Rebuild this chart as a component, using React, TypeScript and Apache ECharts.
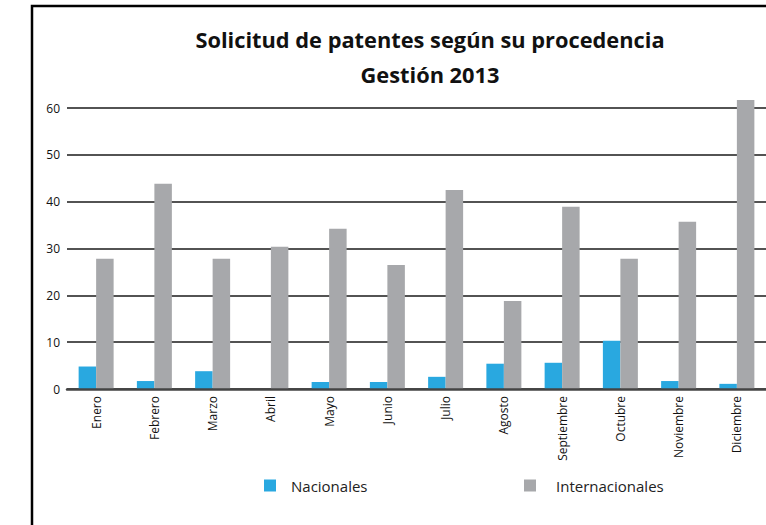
import React, { useEffect, useRef } from "react";
import * as echarts from "echarts";

const categories = ["Enero", "Febrero", "Marzo", "Abril", "Mayo", "Junio", "Julio", "Agosto", "Septiembre", "Octubre", "Noviembre", "Diciembre"];
const nacionales = [4.8, 1.7, 3.8, 0, 1.5, 1.5, 2.6, 5.4, 5.6, 10.3, 1.7, 1.1];
const internacionales = [27.8, 43.8, 27.8, 30.4, 34.2, 26.5, 42.5, 18.8, 38.9, 27.8, 35.7, 61.7];
const titleLines = ["Solicitud de patentes según su procedencia", "Gestión 2013"];

export default function App() {
  const ref = useRef<HTMLDivElement>(null);
  useEffect(() => {
    if (!ref.current) return;
    const chart = echarts.init(ref.current, null, { renderer: "svg" });
    const font = "'Open Sans', 'Noto Sans', sans-serif";
    chart.setOption({
      animation: false,
      backgroundColor: "#ffffff",
      title: {
        text: titleLines.join("\n"),
        left: 425,
        top: 17,
        textAlign: "center",
        textStyle: {
          fontFamily: "'Open Sans', sans-serif",
          fontWeight: "bold",
          fontSize: 21.8,
          lineHeight: 35,
          color: "#111",
        },
      },
      graphic: [
        {
          type: "rect",
          shape: { x: 32, y: 6, width: 900, height: 700 },
          style: { fill: "none", stroke: "#000", lineWidth: 2.5 },
          silent: true,
        },
      ],
      legend: [
        {
          data: ["Nacionales"],
          left: 259,
          top: 473,
          icon: "rect",
          itemWidth: 12,
          itemHeight: 12,
          textStyle: { fontFamily: font, fontSize: 15, color: "#222", padding: [0, 0, 0, 10] },
        },
        {
          data: ["Internacionales"],
          left: 519,
          top: 473,
          icon: "rect",
          itemWidth: 12,
          itemHeight: 12,
          textStyle: { fontFamily: font, fontSize: 15, color: "#222", padding: [0, 0, 0, 15] },
        },
      ],
      grid: { left: 67, top: 108, width: 708, height: 281, containLabel: false },
      xAxis: {
        type: "category",
        data: categories,
        z: 10,
        axisLine: { lineStyle: { color: "#444", width: 2.5 } },
        axisTick: { show: false },
        axisLabel: {
          rotate: 90,
          margin: 7,
          fontFamily: font,
          fontSize: 12,
          color: "#111",
          interval: 0,
        },
      },
      yAxis: {
        type: "value",
        min: 0,
        max: 60,
        interval: 10,
        axisLine: { show: false },
        axisTick: { show: false },
        splitLine: { lineStyle: { color: "#1a1a1a", width: 1.6 } },
        axisLabel: { margin: 7, fontFamily: font, fontSize: 12, color: "#111" },
      },
      series: [
        {
          name: "Nacionales",
          type: "bar",
          data: nacionales,
          barWidth: 17.5,
          barGap: "0%",
          clip: false,
          itemStyle: { color: "#29a8e0" },
        },
        {
          name: "Internacionales",
          type: "bar",
          data: internacionales,
          barWidth: 17.5,
          barGap: "0%",
          clip: false,
          itemStyle: { color: "#a7a8ab" },
        },
      ],
    });
    return () => chart.dispose();
  }, []);
  return <div ref={ref} style={{ position: "fixed", left: 0, top: 0, width: 766, height: 525 }} />;
}
